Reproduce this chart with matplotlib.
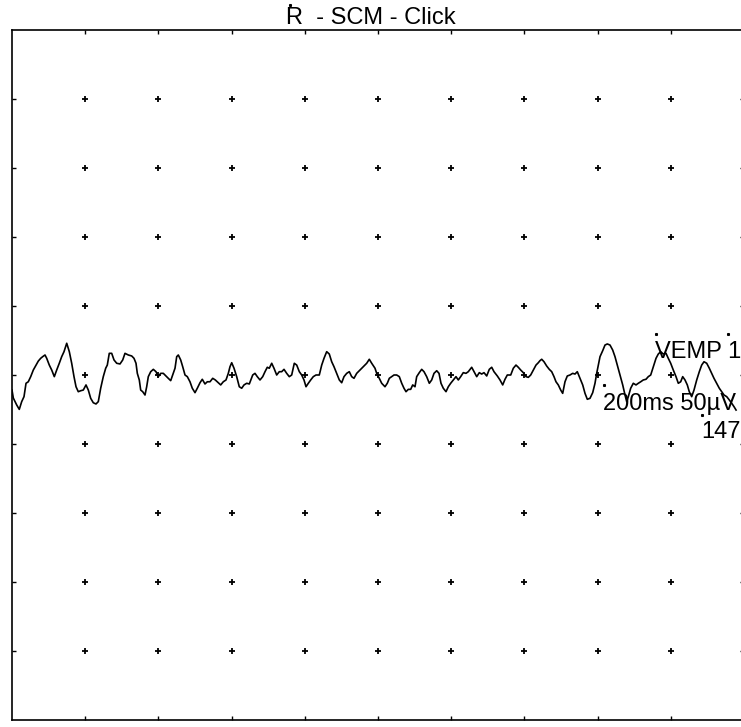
import numpy as np
import matplotlib
matplotlib.use('Agg')
import matplotlib.pyplot as plt

matplotlib.rc('font', family=['Liberation Sans', 'DejaVu Sans'], size=17)

# trace: time in ms, amplitude in uV
time_ms = [0.0, 0.36, 1.28, 1.99, 2.65, 3.28, 3.83, 4.45, 5.11, 5.82, 6.56, 7.19, 7.84, 8.39, 9.02, 9.48,
           10.19, 10.85, 11.56, 12.21, 12.92, 13.58, 14.21, 14.95, 15.66, 16.31, 16.94, 17.49, 18.11, 18.77,
           19.48, 20.22, 20.85, 21.50, 22.21, 22.95, 23.58, 24.23, 24.94, 25.60, 26.04, 26.58, 27.24, 27.87,
           28.61, 29.51, 30.25, 30.87, 31.78, 32.70, 33.33, 33.88, 34.24, 34.78, 35.16, 35.71, 36.34, 36.80,
           37.24, 37.90, 38.61, 39.34, 39.97, 40.63, 41.34, 42.08, 42.70, 43.36, 43.91, 44.54, 45.00, 45.44,
           46.09, 46.64, 47.27, 47.90, 48.63, 49.26, 50.00, 50.63, 51.37, 51.99, 52.73, 53.36, 54.10, 54.84,
           55.55, 56.37, 57.02, 57.73, 58.47, 59.10, 59.56, 60.03, 60.66, 61.39, 62.10, 62.76, 63.39, 64.13,
           64.84, 65.77, 66.39, 67.02, 67.76, 68.50, 69.13, 69.75, 70.30, 70.96, 71.58, 72.32, 73.03, 73.69,
           74.32, 75.05, 75.76, 76.42, 77.13, 77.79, 78.50, 79.15, 79.78, 80.33, 80.96, 81.61, 82.32, 83.06,
           83.96, 84.62, 85.25, 85.98, 86.69, 87.35, 87.98, 88.72, 89.43, 90.08, 90.71, 91.45, 92.16, 92.81,
           93.44, 94.18, 95.08, 95.98, 96.91, 97.62, 98.28, 99.18, 99.64, 100.35, 101.01, 101.91, 102.54,
           103.09, 103.74, 104.37, 105.11, 105.82, 106.48, 107.10, 107.65, 108.28, 108.93, 109.48, 110.11,
           110.57, 111.28, 111.94, 112.57, 113.30, 114.02, 114.67, 115.30, 116.04, 116.67, 117.21, 117.84,
           118.58, 119.21, 119.86, 120.57, 121.31, 121.94, 122.59, 123.30, 124.04, 124.67, 125.60, 126.23,
           126.97, 127.68, 128.33, 128.96, 129.70, 130.41, 131.07, 131.69, 132.60, 133.33, 134.07, 134.70,
           135.33, 136.26, 136.97, 137.70, 138.33, 138.99, 139.70, 140.44, 141.07, 141.72, 142.43, 143.17,
           143.80, 144.26, 144.73, 145.36, 146.09, 146.80, 147.46, 148.09, 148.63, 149.26, 149.92, 150.46,
           151.09, 151.72, 152.46, 153.19, 153.83, 154.45, 155.19, 155.93, 156.56, 157.19, 157.92, 158.66,
           159.29, 159.75, 160.19, 160.66, 161.39, 162.02, 162.65, 163.39, 164.12, 164.75, 165.38, 166.12,
           166.86, 167.49, 167.95, 168.39, 169.04, 169.75, 170.49, 171.12, 171.78, 172.48, 173.22, 173.85,
           174.51, 175.22, 175.96, 176.58, 177.24, 177.95, 178.69, 179.31, 179.97, 180.68, 181.42, 182.05,
           182.70, 183.25, 183.88, 184.51, 185.05, 185.71, 186.34, 187.08, 187.79, 188.44, 189.07, 189.81,
           190.52, 191.17, 191.80, 192.54, 193.25, 193.91, 194.54, 195.28, 195.99, 196.65, 197.28, 197.83]
amp_uv = [-10.9, -16.7, -21.7, -24.9, -19.3, -15.7, -6.0, -4.9, -1.2, 3.6, 7.2, 10.1, 12.1, 13.3, 14.5, 12.1,
          7.2, 3.6, -1.2, 3.6, 8.5, 13.3, 16.9, 23.0, 16.9, 8.5, -1.2, -8.5, -12.1, -11.4,
          -10.9, -7.2, -10.9, -16.9, -20.1, -21.0, -19.3, -9.6, -1.2, 4.9, 7.2, 15.7, 15.7, 10.9,
          8.5, 8.0, 10.9, 15.7, 14.5, 13.8, 12.1, 8.5, 1.2, -3.6, -10.9, -12.1, -14.5, -8.5,
          -1.2, 2.4, 4.1, 2.4, -1.2, 1.2, 1.2, -0.7, -2.4, -4.1, 0.0, 4.9, 13.3, 14.5,
          10.9, 6.0, 0.0, -1.2, -4.9, -9.6, -12.8, -9.6, -5.6, -3.1, -6.5, -4.9, -4.9, -2.4,
          -3.6, -5.6, -7.2, -4.9, -3.6, 1.2, 6.0, 8.9, 4.9, -1.2, -8.5, -9.6, -7.2, -6.0,
          -6.5, 0.0, 1.2, -1.2, -3.6, -1.2, 2.4, 5.6, 4.9, 8.5, 4.9, 0.0, 2.4, 2.4,
          4.1, 1.2, -1.2, 0.0, 8.5, 7.2, 2.4, 0.0, -3.6, -8.5, -6.0, -3.6, -1.2, 0.0,
          0.0, 7.2, 12.1, 16.9, 15.2, 9.6, 6.0, 1.2, -3.6, -5.6, -1.2, 1.2, 2.4, -1.2,
          -2.4, 1.2, 3.6, 6.0, 8.5, 11.4, 8.5, 4.9, 1.2, -2.4, -6.0, -8.5, -6.0,
          -2.4, -1.2, 0.0, 0.0, -1.2, -6.0, -9.6, -12.1, -10.4, -10.4, -7.2, -8.5,
          -1.2, 1.7, 4.1, 2.4, -1.2, -6.0, -3.6, 1.2, 3.1, 1.2, -6.0, -9.6,
          -12.1, -8.5, -6.0, -3.6, -1.2, -3.6, -1.2, 1.7, 1.2, 2.4, 5.6, 2.4,
          -1.2, 1.7, 0.7, 1.7, -0.7, 4.1, 5.6, 2.4, -0.7, -3.6, -7.2, -3.1,
          0.0, 0.0, 4.9, 7.2, 5.6, 3.6, 1.7, -1.2, -1.7, 0.0, 3.6, 7.2,
          8.9, 10.4, 11.4, 9.6, 6.5, 4.1, 2.4, -1.2, -4.9, -7.2, -10.9, -13.3,
          -4.9, -0.7, 0.0, 1.2, 0.7, 2.4, -2.4, -7.2, -13.3, -17.6, -16.9, -12.8,
          -6.0, 1.2, 7.2, 13.3, 17.6, 21.7, 22.5, 21.7, 18.1, 13.3, 7.2, 0.0,
          -7.2, -14.5, -19.3, -15.7, -9.6, -6.0, -7.2, -6.0, -4.9, -3.6, -3.1, -1.2,
          0.0, 6.0, 12.1, 15.2, 16.9, 15.2, 15.7, 12.1, 8.5, 3.6, -1.2, -6.0,
          -4.9, -1.2, -3.6, -7.2, -12.1, -15.7, -10.9, -3.6, 2.4, 7.2, 9.6, 8.5,
          4.9, 1.2, -2.4, -6.0, -9.6, -12.1, -14.5, -15.7, -18.1, -20.5, -23.0, -25.4]

MS_PER_DIV = 20
UV_PER_DIV = 50
grid_x = np.arange(MS_PER_DIV, 10 * MS_PER_DIV + 1, MS_PER_DIV)
grid_y = np.arange(-4 * UV_PER_DIV, 5 * UV_PER_DIV, UV_PER_DIV)

# label anchors (ms, uV) and their little marker dots
labels = [('VEMP 1', 175.7, 12.3), ('200ms 50\u00b5V', 161.5, -25.4), ('147', 188.2, -45.7)]
dots_t = [176.0, 195.6, 161.7, 188.5]
dots_v = [29.7, 29.7, -7.2, -29.0]

fig = plt.figure(figsize=(7.41, 7.27), dpi=100)
ax = fig.add_axes([12 / 741, 7 / 727, 732 / 741, 690 / 727])
ax.set_xlim(0, 10 * MS_PER_DIV)
ax.set_ylim(-5 * UV_PER_DIV, 5 * UV_PER_DIV)

gx, gy = np.meshgrid(grid_x, grid_y)
ax.plot(gx.ravel(), gy.ravel(), '+', color='black', ms=4, mew=1.3, ls='none')
ax.plot(time_ms, amp_uv, color='black', lw=1.2)

for txt, t, v in labels:
    ax.text(t, v, txt, ha='left', va='baseline', fontsize=17, clip_on=False)
ax.plot(dots_t, dots_v, 's', color='black', ms=1.2, ls='none')

ax.set_xticks(grid_x)
ax.set_yticks(grid_y)
ax.tick_params(direction='in', length=3, width=1, top=True, right=True,
               labelbottom=False, labelleft=False)
for s in ax.spines.values():
    s.set_linewidth(1.2)

fig.text(0.5, 1 - 18 / 727, 'R  - SCM - Click', ha='center', va='center', fontsize=17)
# small dot over the R
fig.add_artist(plt.Line2D([290 / 741], [1 - 5 / 727], marker='s', ms=1.2, color='black', ls='none'))

plt.savefig('out.png', dpi=100)
